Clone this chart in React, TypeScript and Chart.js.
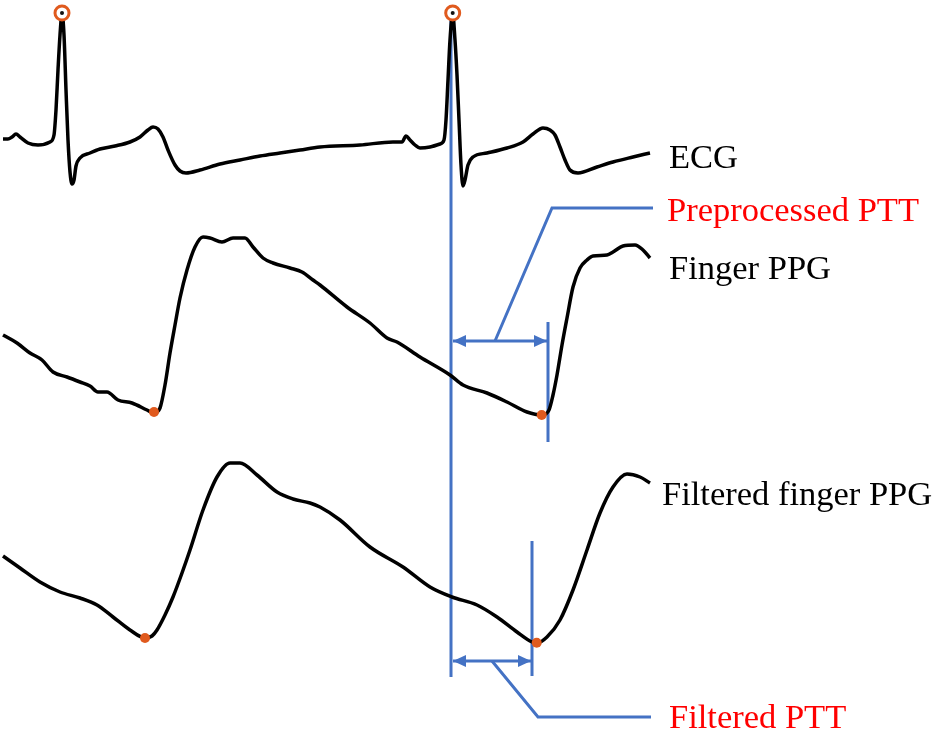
import React, { useEffect, useRef } from "react";
import { Chart, registerables } from "chart.js";

Chart.register(...registerables);

// ---- Data (x: time axis units, y: vertical position units, downward) ----
const ecgTrace: [number, number][] = [
  [3, 139], [8, 139], [12, 137], [16, 134], [20, 137], [28, 143], [38, 145], [50, 142],
  [54, 135], [56, 110], [58, 70], [60, 35], [62, 14], [64, 35], [66, 90], [68, 140],
  [70, 172], [72, 184], [74, 180], [76, 166], [80, 158], [90, 153], [100, 149], [115, 146],
  [130, 142], [140, 137], [148, 130], [153, 127], [158, 129], [163, 137], [168, 150],
  [175, 165], [180, 171], [186, 173], [200, 170], [220, 164], [240, 160], [260, 156],
  [280, 153], [300, 150], [320, 147], [360, 145], [393, 142], [402, 142], [406, 136],
  [410, 140], [415, 145], [420, 148], [430, 147], [440, 144], [444, 140], [446, 120],
  [448, 80], [450, 40], [452.7, 14], [455, 40], [457, 75], [459, 120], [461, 165],
  [463, 186], [465, 180], [468, 165], [473, 157], [487, 153], [507, 148], [523, 142],
  [533, 134], [543, 128], [550, 130], [555, 135], [560, 147], [565, 160], [570, 170],
  [578, 173], [597, 167], [613, 162], [633, 157], [650, 153],
];

const fingerPpgTrace: [number, number][] = [
  [3, 335], [17, 343], [30, 353], [42, 360], [53, 372], [67, 377], [80, 382], [90, 386],
  [98, 392], [107, 392], [118, 400], [132, 403], [147, 410], [154, 413], [160, 408],
  [165, 385], [170, 353], [175, 325], [180, 298], [187, 270], [195, 247], [203, 237],
  [210, 238], [222, 242], [233, 238], [245, 238], [253, 247], [263, 258], [273, 263],
  [290, 268], [302, 272], [313, 280], [320, 285], [347, 307], [370, 323], [387, 338],
  [397, 342], [420, 357], [450, 375], [463, 385], [487, 393], [507, 402], [527, 412],
  [542, 415], [549, 410], [553, 395], [557, 375], [562, 345], [567, 318], [573, 287],
  [580, 268], [587, 260], [593, 256], [607, 255], [613, 252], [623, 246], [635, 245],
  [643, 250], [650, 258],
];

const filteredPpgTrace: [number, number][] = [
  [3, 556], [20, 568], [40, 582], [60, 592], [80, 598], [97, 605], [113, 617], [130, 630],
  [145, 638], [152, 636], [157, 630], [165, 615], [173, 597], [182, 573], [190, 550],
  [203, 510], [217, 477], [230, 463], [240, 463], [257, 475], [277, 492], [293, 499],
  [310, 503], [320, 507], [340, 520], [370, 547], [403, 567], [430, 587], [452, 597],
  [477, 605], [497, 617], [517, 632], [532, 642], [537, 643], [547, 637], [560, 620],
  [573, 590], [587, 550], [600, 513], [613, 487], [627, 474], [640, 477], [650, 483],
];

const ecgRPeaks: [number, number][] = [[62, 13], [452.7, 13]];
const fingerPpgFeet: [number, number][] = [[154, 412], [541.7, 415]];
const filteredPpgFeet: [number, number][] = [[145, 638], [536.7, 642.7]];

// PTT annotation geometry
const rPeakMarkerLine: [number, number][] = [[451, 18], [451, 677]];
const preFootLine: [number, number][] = [[548, 322], [548, 442]];
const preArrow: [number, number][] = [[453, 341], [547, 341]];
const preLeader: [number, number][] = [[495, 341], [552, 208], [653, 208]];
const filtFootLine: [number, number][] = [[532, 541], [532, 676]];
const filtArrow: [number, number][] = [[453, 661], [531, 661]];
const filtLeader: [number, number][] = [[492, 661], [538, 717], [651, 717]];

const labelTexts = ["ECG", "Preprocessed PTT", "Finger PPG", "Filtered finger PPG", "Filtered PTT"];
const labelX = [669, 667, 669, 662, 669];
const labelY = [168, 221, 279, 505, 728];
const labelColors = ["#000000", "#FF0000", "#000000", "#000000", "#FF0000"];

const BLUE = "#4472C4";
const ORANGE = "#E05A1E";

const toXY = (arr: [number, number][]) => arr.map(([x, y]) => ({ x, y }));

function drawHead(ctx: CanvasRenderingContext2D, tx: number, ty: number, fx: number, fy: number, color: string) {
  const ang = Math.atan2(ty - fy, tx - fx);
  const len = 13;
  const half = 6;
  const c = Math.cos(ang);
  const s = Math.sin(ang);
  ctx.save();
  ctx.fillStyle = color;
  ctx.beginPath();
  ctx.moveTo(tx, ty);
  ctx.lineTo(tx - len * c + half * s, ty - len * s - half * c);
  ctx.lineTo(tx - len * c - half * s, ty - len * s + half * c);
  ctx.closePath();
  ctx.fill();
  ctx.restore();
}

const arrowPlugin = {
  id: "arrowHeads",
  afterDatasetsDraw(chart: any) {
    const ctx = chart.ctx;
    chart.data.datasets.forEach((ds: any, i: number) => {
      if (!ds.arrowHeads) return;
      const pts = chart.getDatasetMeta(i).data;
      if (pts.length < 2) return;
      const a = pts[0];
      const b = pts[pts.length - 1];
      drawHead(ctx, a.x, a.y, b.x, b.y, ds.borderColor);
      drawHead(ctx, b.x, b.y, a.x, a.y, ds.borderColor);
    });
  },
};

const labelPlugin = {
  id: "textLabels",
  afterDraw(chart: any) {
    const ctx = chart.ctx;
    const xs = chart.scales.x;
    const ys = chart.scales.y;
    ctx.save();
    ctx.font = '34.5px "Liberation Serif", "Times New Roman", serif';
    ctx.textAlign = "left";
    ctx.textBaseline = "alphabetic";
    labelTexts.forEach((t, i) => {
      ctx.fillStyle = labelColors[i];
      ctx.fillText(t, xs.getPixelForValue(labelX[i]), ys.getPixelForValue(labelY[i]));
    });
    ctx.restore();
  },
};

export default function App() {
  const ref = useRef<HTMLCanvasElement | null>(null);

  useEffect(() => {
    if (!ref.current) return;
    const trace = (data: [number, number][]) => ({
      data: toXY(data),
      borderColor: "#000000",
      borderWidth: 3.5,
      pointRadius: 0,
      cubicInterpolationMode: "monotone" as const,
      clip: false as any,
    });
    const blue = (data: [number, number][], extra: any = {}) => ({
      data: toXY(data),
      borderColor: BLUE,
      borderWidth: 3,
      pointRadius: 0,
      tension: 0,
      clip: false as any,
      ...extra,
    });
    const chart = new Chart(ref.current, {
      type: "line",
      data: {
        datasets: [
          {
            data: toXY(ecgRPeaks),
            showLine: false,
            pointRadius: 2,
            pointBackgroundColor: "#111111",
            pointBorderWidth: 0,
            clip: false as any,
          } as any,
          {
            data: toXY(ecgRPeaks),
            showLine: false,
            pointRadius: 7,
            pointBackgroundColor: "#FFFFFF",
            pointBorderColor: ORANGE,
            pointBorderWidth: 3,
            clip: false as any,
          } as any,
          {
            data: toXY(fingerPpgFeet),
            showLine: false,
            pointRadius: 5,
            pointBackgroundColor: ORANGE,
            pointBorderWidth: 0,
            clip: false as any,
          } as any,
          {
            data: toXY(filteredPpgFeet),
            showLine: false,
            pointRadius: 5,
            pointBackgroundColor: ORANGE,
            pointBorderWidth: 0,
            clip: false as any,
          } as any,
          trace(ecgTrace) as any,
          trace(fingerPpgTrace) as any,
          trace(filteredPpgTrace) as any,
          blue(rPeakMarkerLine),
          blue(preFootLine),
          blue(preArrow, { arrowHeads: true }),
          blue(preLeader),
          blue(filtFootLine),
          blue(filtArrow, { arrowHeads: true }),
          blue(filtLeader),
        ],
      },
      options: {
        animation: false,
        responsive: false,
        maintainAspectRatio: false,
        events: [],
        layout: { padding: 0, autoPadding: false },
        plugins: { legend: { display: false }, tooltip: { enabled: false } },
        scales: {
          x: { type: "linear", min: 0, max: 937, display: false },
          y: { type: "linear", min: 0, max: 734, reverse: true, display: false },
        },
      },
      plugins: [arrowPlugin, labelPlugin],
    });
    return () => chart.destroy();
  }, []);

  return (
    <div style={{ position: "absolute", left: 0, top: 0, width: 937, height: 734, background: "#FFFFFF" }}>
      <canvas ref={ref} width={937} height={734} style={{ display: "block" }} />
    </div>
  );
}
